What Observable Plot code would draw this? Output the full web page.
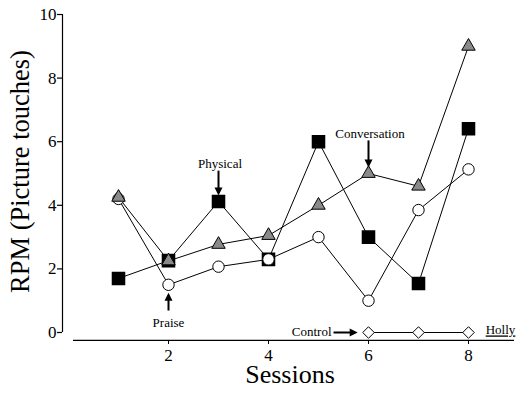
<!DOCTYPE html>
<html><head><meta charset="utf-8">
<script src="https://cdn.jsdelivr.net/npm/d3@7"></script>
<script src="https://cdn.jsdelivr.net/npm/@observablehq/plot@0.6"></script>
<style>body{margin:0;background:#fff} svg{display:block}</style>
</head><body><div id="chart"></div>
<script>
// Responses per minute (picture touches) across sessions, by prompt condition
const sessions = [1, 2, 3, 4, 5, 6, 7, 8];
const praise = [4.2, 1.5, 2.07, 2.3, 3.0, 1.0, 3.85, 5.13];
const physical = [1.7, 2.26, 4.12, 2.3, 6.0, 3.0, 1.54, 6.41];
const conversation = [4.25, 2.25, 2.77, 3.05, 4.0, 5.0, 4.6, 9.0];
const controlSessions = [6, 7, 8];
const control = [0, 0, 0];

const xTicks = [2, 4, 6, 8];
const yTicks = [0, 2, 4, 6, 8, 10];
const xDomain = [-0.12, 8.98];
const serif = "'Liberation Serif', 'Times New Roman', serif";

// annotation arrows (data units; the filled head extends a little past the end)
const arrows = [
  {x1: 3, y1: 5.09, x2: 3, y2: 4.39},
  {x1: 6, y1: 6.04, x2: 6, y2: 5.27},
  {x1: 2, y1: 0.69, x2: 2, y2: 1.17},
  {x1: 5.3, y1: 0, x2: 5.73, y2: 0}
];
const centeredNotes = [
  {text: "Physical", x: 3.03, y: 5.3},
  {text: "Conversation", x: 6.03, y: 6.25},
  {text: "Praise", x: 2.0, y: 0.31},
  {text: "Holly", x: 8.64, y: 0.07}
];
const endNotes = [
  {text: "Control", x: 5.26, y: 0.02}
];

const rows = (ys, xs = sessions) => xs.map((s, i) => ({session: s, value: ys[i]}));
const praiseRows = rows(praise);
const physicalRows = rows(physical);
const conversationRows = rows(conversation);
const controlRows = rows(control, controlSessions);

const line = (data) => Plot.line(data, {x: "session", y: "value", stroke: "black", strokeWidth: 1});

const chart = Plot.plot({
  width: 517,
  height: 398,
  marginLeft: 62,
  marginRight: 0,
  marginTop: 14,
  marginBottom: 66,
  style: {fontFamily: serif, background: "white", color: "black"},
  x: {domain: xDomain},
  y: {domain: [0, 10]},
  marks: [
    Plot.ruleX([xDomain[0]], {y1: 0, y2: 10, stroke: "black", strokeWidth: 1.2}),
    Plot.axisY({ticks: yTicks, tickSize: 5, tickPadding: 1, fontSize: 17, fontFamily: serif, label: null, strokeWidth: 1.2}),
    Plot.ruleY([-0.25], {x1: 0.1, x2: 8.92, stroke: "black", strokeWidth: 1.2}),
    Plot.axisX({ticks: xTicks, tickSize: 4, tickPadding: 4, fontSize: 17, fontFamily: serif, label: null, dy: 8}),
    Plot.text(["RPM (Picture touches)"], {frameAnchor: "left", textAnchor: "middle", dx: -42, dy: -2, rotate: -90, fontSize: 26.5, fontFamily: serif}),
    Plot.text(["Sessions"], {frameAnchor: "bottom", dy: 50, fontSize: 26, fontFamily: serif}),
    line(physicalRows),
    line(praiseRows),
    line(conversationRows),
    line(controlRows),
    Plot.dot(physicalRows, {x: "session", y: "value", symbol: "square", r: 6.8, fill: "black", stroke: "black"}),
    Plot.dot(praiseRows, {x: "session", y: "value", symbol: "circle", r: 5.7, fill: "white", stroke: "black", strokeWidth: 1}),
    Plot.dot(conversationRows, {x: "session", y: "value", symbol: "triangle", r: 5, fill: "#8a8a8a", stroke: "black", strokeWidth: 1}),
    Plot.dot(controlRows, {x: "session", y: "value", symbol: "diamond2", r: 5.2, fill: "white", stroke: "black", strokeWidth: 1}),
    Plot.link(arrows, {x1: "x1", y1: "y1", x2: "x2", y2: "y2", stroke: "black", strokeWidth: 2, markerEnd: "arrow"}),
    Plot.text(centeredNotes, {x: "x", y: "y", text: "text", textAnchor: "middle", fontSize: 13, fontFamily: serif}),
    Plot.text(endNotes, {x: "x", y: "y", text: "text", textAnchor: "end", fontSize: 13, fontFamily: serif})
  ]
});

// solid triangular arrowheads
d3.select(chart).selectAll("marker path")
  .attr("d", "M-4,-3L2,0L-4,3Z")
  .attr("fill", "black")
  .attr("stroke", "none");

// underline the participant name
d3.select(chart).selectAll("text").filter(function () { return this.textContent === "Holly"; })
  .style("text-decoration", "underline");

document.getElementById("chart").append(chart);
</script>
</body></html>
